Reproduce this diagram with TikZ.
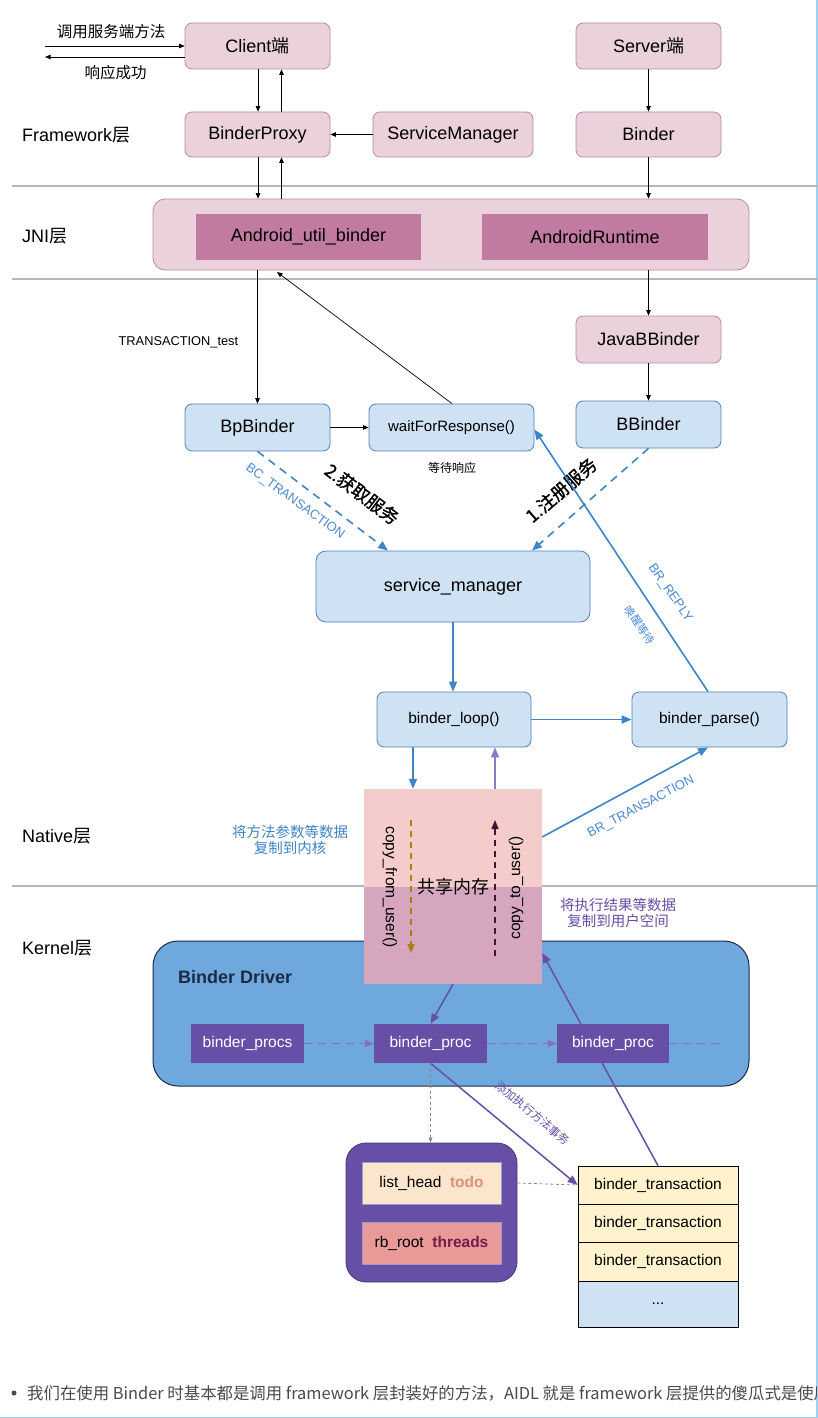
\documentclass[tikz,border=0pt]{standalone}
\usepackage{fontspec}
\setmainfont{Liberation Sans}
\newfontfamily\zh{Noto Sans CJK SC}
\newfontfamily\zhb[FakeBold=1.2]{Noto Sans CJK SC}
\usetikzlibrary{arrows.meta}
\newcommand\fsz[1]{\fontsize{#1}{#1}\selectfont}
\definecolor{pinkfill}{HTML}{EAD1DC}
\definecolor{pinkdraw}{HTML}{B98AA2}
\definecolor{mauve}{HTML}{C27BA0}
\definecolor{bluefill}{HTML}{CFE2F3}
\definecolor{bluedraw}{HTML}{4F81BD}
\definecolor{arrowblue}{HTML}{3D85C6}
\definecolor{labelblue}{HTML}{4A8AD4}
\definecolor{purp}{HTML}{674EA7}
\definecolor{lav}{HTML}{8E7CC3}
\definecolor{drvfill}{HTML}{6FA8DC}
\definecolor{drvdraw}{HTML}{1B2B45}
\definecolor{shtop}{HTML}{F4CCCC}
\definecolor{shbot}{HTML}{D5A6BD}
\definecolor{brownc}{HTML}{A87F10}
\definecolor{plum}{HTML}{4C1130}
\definecolor{todoc}{HTML}{E0907A}
\definecolor{threadsc}{HTML}{741B47}
\definecolor{lheadfill}{HTML}{FCE5CD}
\definecolor{rbfill}{HTML}{EA9999}
\definecolor{tfill}{HTML}{FFF2CC}
\definecolor{sepgray}{HTML}{B7B7B7}
\definecolor{edgeblue}{HTML}{9CD3F2}
\definecolor{txtgray}{HTML}{4A4A4A}
\definecolor{dashgray}{HTML}{8A8A8A}
\pgfdeclarelayer{bg}
\pgfdeclarelayer{mid}
\pgfsetlayers{bg,mid,main}
\begin{document}
\begin{tikzpicture}[x=1pt,y=-1pt,font=\fsz{18},
  pinkbox/.style={draw=pinkdraw,fill=pinkfill,rounded corners=7pt,line width=0.8pt,inner sep=0pt},
  bluebox/.style={draw=bluedraw,fill=bluefill,rounded corners=7pt,line width=0.8pt,inner sep=0pt},
  procbox/.style={fill=purp,text=white,inner sep=0pt,minimum height=39pt,font=\fsz{15.5}},
  transbox/.style={draw=black,line width=0.7pt,fill=tfill,inner sep=0pt,minimum width=160pt,font=\fsz{15.5}},
  blk/.style={-{Triangle[length=5.5pt,width=4.5pt]},line width=0.7pt,black},
  bla/.style={-{Triangle[length=10pt,width=8pt]},line width=1.6pt,arrowblue},
  bld/.style={bla,dash pattern=on 8pt off 6pt},
  lava/.style={-{Triangle[length=10pt,width=8pt]},line width=1.6pt,lav},
  pur/.style={-{Triangle[length=10pt,width=8pt]},line width=1.5pt,purp},
  purd/.style={-{Triangle[length=9pt,width=7pt]},line width=1.5pt,purp!80!white,dash pattern=on 8pt off 6pt},
  gdash/.style={-{Triangle[length=5pt,width=4pt]},line width=0.8pt,dashgray,dash pattern=on 3pt off 2.5pt},
  sep/.style={line width=1.5pt,sepgray},
  layerlbl/.style={anchor=west,inner sep=0pt,font=\fsz{18}},
  lbl/.style={inner sep=0pt}]
\useasboundingbox (0,0) rectangle (818,1418);
\begin{pgfonlayer}{bg}
\fill[white] (0,0) rectangle (818,1418);
\node[draw=drvdraw,fill=drvfill,line width=1pt,rounded corners=25pt,minimum width=596pt,minimum height=145pt,inner sep=0pt] (driver) at (451,1013.5) {};
\end{pgfonlayer}
% frame edges
\draw[edgeblue,line width=1.5pt] (817,0) -- (817,1418);
\draw[edgeblue,line width=1.5pt] (0,1417.5) -- (818,1417.5);
% separators
\draw[sep] (12,186) -- (818,186);
\draw[sep] (12,279) -- (818,279);
\draw[sep] (12,886) -- (818,886);
% layer labels
\node[layerlbl] (lfw) at (22,135) {Framework{\zh 层}};
\node[layerlbl] (ljni) at (22,236) {JNI{\zh 层}};
\node[layerlbl] (lnat) at (22,836) {Native{\zh 层}};
\node[layerlbl] (lker) at (22,948) {Kernel{\zh 层}};
% framework
\node[pinkbox,minimum width=145pt,minimum height=46pt] (client) at (257.5,46) {Client{\zh 端}};
\node[pinkbox,minimum width=145pt,minimum height=45pt] (bproxy) at (257.5,134.5) {BinderProxy};
\node[pinkbox,minimum width=160pt,minimum height=45pt] (smgr) at (453,134.5) {ServiceManager};
\node[pinkbox,minimum width=145pt,minimum height=46pt] (server) at (648.5,46) {Server{\zh 端}};
\node[pinkbox,minimum width=145pt,minimum height=45pt] (binder) at (648.5,134.5) {Binder};
\node[lbl,font=\zh\fsz{15.5}] (tcall) at (111,32) {调用服务端方法};
\node[lbl,font=\zh\fsz{15.5}] (tresp) at (115.5,73) {响应成功};
% JNI
\node[pinkbox,rounded corners=12pt,minimum width=596pt,minimum height=71pt] (jni) at (451,234.5) {};
\node[fill=mauve,inner sep=0pt,minimum width=225pt,minimum height=46pt] (aub) at (308.5,237) {Android\_util\_binder};
\node[fill=mauve,inner sep=0pt,minimum width=226pt,minimum height=46pt] (art) at (595,237) {AndroidRuntime};
% native upper
\node[pinkbox,minimum width=145pt,minimum height=47pt] (javab) at (648.5,339.5) {JavaBBinder};
\node[bluebox,minimum width=145pt,minimum height=47pt] (bbinder) at (648.5,424.5) {BBinder};
\node[bluebox,minimum width=145pt,minimum height=47pt] (bp) at (257.5,427.5) {BpBinder};
\node[bluebox,minimum width=165pt,minimum height=47pt,font=\fsz{15}] (wait) at (451.5,427.5) {waitForResponse()};
\node[lbl,font=\zh\fsz{12}] (twait) at (452,468) {等待响应};
\node[bluebox,rounded corners=10pt,minimum width=274pt,minimum height=71pt] (sm) at (453,586.5) {service\_manager};
\node[bluebox,minimum width=154pt,minimum height=55pt,font=\fsz{15.5}] (loop) at (454,719.5) {binder\_loop()};
\node[bluebox,minimum width=155pt,minimum height=55pt,font=\fsz{15.5}] (parse) at (709.5,719.5) {binder\_parse()};
% shared memory
\fill[shtop] (364,789) rectangle (542,887);
\fill[shbot] (364,887) rectangle (542,984);
\node[inner sep=0pt,minimum width=178pt,minimum height=195pt] (shm) at (453,886.5) {{\zh 共享内存}};
\node[lbl,rotate=-90,font=\fsz{15.5}] (tcf) at (390,887) {copy\_from\_user()};
\node[lbl,rotate=90,font=\fsz{15.5}] (tct) at (516,888) {copy\_to\_user()};
\coordinate (cf1) at (411,820);
\coordinate (cf2) at (411,953);
\draw[-{Triangle[length=9pt,width=7pt]},line width=1.4pt,brownc,dash pattern=on 6pt off 5pt] (cf1) -- (cf2);
\coordinate (ct1) at (495,956);
\coordinate (ct2) at (495,820);
\draw[-{Triangle[length=9pt,width=7pt]},line width=1.4pt,plum,dash pattern=on 6pt off 5pt] (ct1) -- (ct2);
\node[lbl,align=center,text=arrowblue,font=\zh\fsz{14.5}] (tcopyin) at (290,840) {将方法参数等数据\\[2pt]复制到内核};
\node[lbl,align=center,text=purp,font=\zh\fsz{14.5}] (tcopyout) at (618,913) {将执行结果等数据\\[2pt]复制到用户空间};
% kernel
\node[anchor=west,inner sep=0pt,font=\bfseries\fsz{18},text=drvdraw] (tdrv) at (178,977) {Binder Driver};
\node[procbox,minimum width=113pt] (procs) at (247.5,1043.5) {binder\_procs};
\node[procbox,minimum width=113pt] (proc1) at (430.5,1043.5) {binder\_proc};
\node[procbox,minimum width=112pt] (proc2) at (613,1043.5) {binder\_proc};
\node[draw=purp!70!black,fill=purp,line width=0.8pt,rounded corners=20pt,minimum width=171pt,minimum height=139pt,inner sep=0pt] (thr) at (431.5,1212.5) {};
\node[fill=lheadfill,draw=purp!60!white,line width=0.5pt,minimum width=139pt,minimum height=42pt,inner sep=0pt,font=\fsz{15.5}] (lhead) at (431.5,1183) {list\_head\ \ \textcolor{todoc}{\bfseries todo}};
\node[fill=rbfill,draw=purp!60!white,line width=0.5pt,minimum width=139pt,minimum height=42pt,inner sep=0pt,font=\fsz{15.5}] (rbroot) at (431.5,1243) {rb\_root\ \ \textcolor{threadsc}{\bfseries threads}};
\node[transbox,minimum height=38pt] (t1) at (658,1185) {binder\_transaction};
\node[transbox,minimum height=38pt] (t2) at (658,1223) {binder\_transaction};
\node[transbox,minimum height=39pt] (t3) at (658,1261.5) {binder\_transaction};
\node[transbox,fill=bluefill,minimum height=46pt] (tdots) at (658,1304) {...};
% black connectors
\coordinate (inL) at (45,46);
\coordinate (outL) at (45,57);
\draw[blk] (inL) -- (client.west);
\draw[blk] ([yshift=-11pt]client.west) -- (outL);
\coordinate (cD) at ([xshift=0.5pt]client.south);
\draw[blk] (cD) -- (cD |- bproxy.north);
\coordinate (cU) at ([xshift=24pt]bproxy.north);
\draw[blk] (cU) -- (cU |- client.south);
\coordinate (bD) at ([xshift=0.5pt]bproxy.south);
\draw[blk] (bD) -- (bD |- jni.north);
\coordinate (bU) at ([xshift=24pt]bproxy.south);
\draw[blk] (bU |- jni.north) -- (bU);
\draw[blk] (smgr.west) -- (bproxy.east);
\draw[blk] (server.south) -- (binder.north);
\draw[blk] (binder.south) -- (binder.south |- jni.north);
\draw[blk] (bp.north |- jni.south) -- (bp.north) node[pos=0.54,left=19pt,inner sep=0pt,font=\fsz{12.8}] {TRANSACTION\_test};
\coordinate (wt) at (277,272);
\draw[blk] ([xshift=0.5pt]wait.north) -- (wt);
\draw[blk] (javab.north |- jni.south) -- (javab.north);
\draw[blk] (javab.south) -- (bbinder.north);
\draw[blk] (bp.east) -- (wait.west);
% blue connectors
\draw[bld] (bp.south) -- ([xshift=-65pt]sm.north);
\node[lbl,rotate=-36,text=labelblue,font=\fsz{13}] (tbc) at (295,502) {BC\_TRANSACTION};
\node[lbl,rotate=-37,font=\zhb\fsz{18}] (tget) at (362,494) {2.获取服务};
\draw[bld] (bbinder.south) -- ([xshift=79pt]sm.north);
\node[lbl,rotate=41,font=\zhb\fsz{18}] (treg) at (561,490) {1.注册服务};
\draw[bla] ([xshift=-1.5pt]parse.north) -- ([yshift=-2pt]wait.east);
\node[lbl,rotate=-55,text=labelblue,font=\fsz{13}] (treply) at (670,593) {BR\_REPLY};
\node[lbl,rotate=-55,text=labelblue,font=\zh\fsz{11}] (twake) at (640,625) {唤醒等待};
\draw[bla] (sm.south) -- (sm.south |- loop.north);
\draw[bla] (loop.east) -- (parse.west);
\coordinate (lD) at ([xshift=-41pt]loop.south);
\draw[bla] (lD) -- (lD |- shm.north);
\coordinate (lU) at ([xshift=41pt]loop.south);
\draw[lava] (lU |- shm.north) -- (lU);
\draw[bla] ([yshift=49.5pt]shm.east) -- ([xshift=-1.5pt]parse.south);
\node[lbl,rotate=28,text=labelblue,font=\fsz{13}] (tbr) at (641,807) {BR\_TRANSACTION};
% purple connectors
\draw[pur] (shm.south) -- (proc1.north);
\begin{pgfonlayer}{mid}
\draw[pur] (t1.north) -- ([yshift=-66.5pt]shm.east);
\end{pgfonlayer}
\draw[purd] (procs.east) -- (proc1.west);
\draw[purd] (proc1.east) -- (proc2.west);
\coordinate (pend) at (720,1043.5);
\draw[purd,-] (proc2.east) -- (pend);
\draw[pur] (proc1.south) -- (t1.west);
\node[lbl,rotate=-39.5,text=purp,font=\zh\fsz{11.5}] (tadd) at (533,1113) {添加执行方法事务};
\draw[gdash] (proc1.south) -- (proc1.south |- thr.north);
\draw[gdash,-] (thr.east |- lhead.east) -- (t1.west);
% bottom text
\begin{scope}
\clip (0,1370) rectangle (816,1416);
\fill[txtgray] (14,1393) circle (2.5pt);
\node[anchor=west,inner sep=0pt,text=txtgray,font=\zh\fsz{16.4}] (tbottom) at (27,1393) {我们在使用 Binder 时基本都是调用 framework 层封装好的方法，AIDL 就是 framework 层提供的傻瓜式是使用};
\end{scope}
\end{tikzpicture}
\end{document}
